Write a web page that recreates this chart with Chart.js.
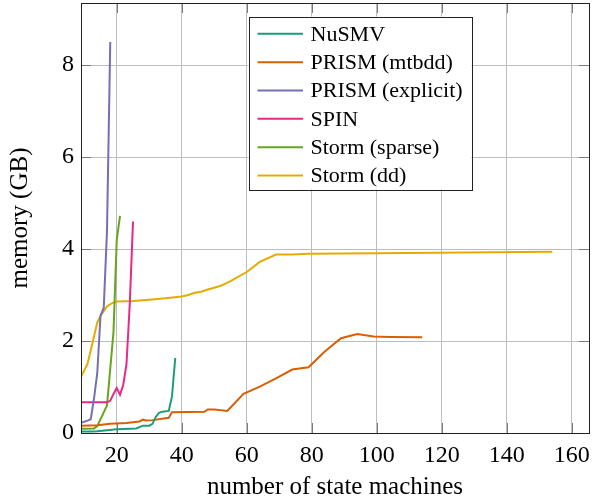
<!DOCTYPE html>
<html>
<head>
<meta charset="utf-8">
<script src="https://cdn.jsdelivr.net/npm/chart.js@4.4.1/dist/chart.umd.min.js"></script>
<style>
  html, body { margin: 0; padding: 0; background: #fff; }
  #wrap { width: 592px; height: 502px; }
</style>
</head>
<body>
<div id="wrap"><canvas id="c" width="592" height="502"></canvas></div>
<script>
// values (x = number of state machines, y = memory in GB)
const seriesNames = ['NuSMV', 'PRISM (mtbdd)', 'PRISM (explicit)', 'SPIN', 'Storm (sparse)', 'Storm (dd)'];
const seriesColors = ['#1b9e77', '#d95f02', '#7570b3', '#e7298a', '#66a61e', '#e6ab02'];

const nusmvX = [9, 12, 14, 17, 20, 26, 28, 30, 31, 32, 33, 34, 36, 37, 38];
const nusmvY = [0.03, 0.03, 0.04, 0.06, 0.08, 0.1, 0.16, 0.16, 0.2, 0.35, 0.44, 0.46, 0.48, 0.8, 1.63];

const mtbddX = [9, 14, 18, 23, 27, 28, 29, 31, 36, 37, 47, 48, 50, 54, 59, 64, 69, 74, 79, 84, 89, 94, 99, 104, 114];
const mtbddY = [0.16, 0.17, 0.2, 0.22, 0.25, 0.29, 0.27, 0.28, 0.33, 0.45, 0.46, 0.51, 0.51, 0.48, 0.85, 1.01, 1.19, 1.38, 1.43, 1.77, 2.06, 2.15, 2.1, 2.09, 2.08];

const explicitX = [9, 11, 12, 13, 14, 15, 16, 17, 18];
const explicitY = [0.22, 0.27, 0.3, 0.75, 1.3, 2.55, 2.72, 4.4, 8.5];

const spinX = [9, 17, 18, 19, 20, 21, 22, 23, 24, 25];
const spinY = [0.67, 0.67, 0.7, 0.85, 0.98, 0.83, 1.05, 1.5, 2.8, 4.6];

const sparseX = [9, 13, 14, 15, 16, 17, 18, 19, 20, 21];
const sparseY = [0.09, 0.1, 0.15, 0.3, 0.45, 0.6, 1.4, 2.2, 4.2, 4.72];

const ddX = [9, 11, 12, 13, 14, 15, 16, 17, 18, 19, 20, 25, 30, 35, 40, 42, 44, 46, 48, 50, 52, 55, 60, 64, 69, 74, 79, 100, 154];
const ddY = [1.22, 1.5, 1.8, 2.1, 2.4, 2.55, 2.65, 2.75, 2.8, 2.84, 2.86, 2.87, 2.9, 2.93, 2.97, 3.0, 3.05, 3.07, 3.12, 3.16, 3.2, 3.3, 3.5, 3.72, 3.88, 3.88, 3.9, 3.91, 3.94];

const xTicks = [20, 40, 60, 80, 100, 120, 140, 160];
const yTicks = [0, 2, 4, 6, 8];

const allX = [nusmvX, mtbddX, explicitX, spinX, sparseX, ddX];
const allY = [nusmvY, mtbddY, explicitY, spinY, sparseY, ddY];

const serif = '"Liberation Serif", "Times New Roman", serif';

const datasets = seriesNames.map((name, i) => ({
  label: name,
  data: allX[i].map((x, j) => ({ x: x, y: allY[i][j] })),
  borderColor: seriesColors[i],
  backgroundColor: seriesColors[i],
  borderWidth: 2,
  pointRadius: 0,
  tension: 0,
  fill: false
}));

// inner tick marks + frame + legend, pgfplots style
const frame = {
  id: 'frame',
  beforeDatasetsDraw(chart) {
    const ctx = chart.ctx, a = chart.chartArea;
    const xs = chart.scales.x, ys = chart.scales.y;
    ctx.save();
    ctx.strokeStyle = '#7a7a7a';
    ctx.lineWidth = 1;
    ctx.beginPath();
    xTicks.forEach(v => {
      const px = Math.round(xs.getPixelForValue(v)) + 0.5;
      ctx.moveTo(px, a.bottom); ctx.lineTo(px, a.bottom - 10);
      ctx.moveTo(px, a.top); ctx.lineTo(px, a.top + 10);
    });
    yTicks.forEach(v => {
      const py = Math.round(ys.getPixelForValue(v)) + 0.5;
      ctx.moveTo(a.left, py); ctx.lineTo(a.left + 10, py);
      ctx.moveTo(a.right, py); ctx.lineTo(a.right - 10, py);
    });
    ctx.stroke();
    ctx.restore();
  },
  afterDraw(chart) {
    const ctx = chart.ctx, a = chart.chartArea;
    ctx.save();
    ctx.strokeStyle = '#222';
    ctx.lineWidth = 1;
    ctx.strokeRect(Math.round(a.left) + 0.5, Math.round(a.top) + 0.5,
      Math.round(a.right - a.left), Math.round(a.bottom - a.top));

    // legend box
    const lx = a.left + 167.5, ly = a.top + 13.5, lw = 223, lh = 173;
    ctx.fillStyle = '#fff';
    ctx.fillRect(lx, ly, lw, lh);
    ctx.strokeRect(Math.round(lx) + 0.5, Math.round(ly) + 0.5, lw, lh);
    ctx.font = '22px ' + serif;
    ctx.textBaseline = 'middle';
    ctx.textAlign = 'left';
    chart.data.datasets.forEach((ds, i) => {
      const ry = ly + 17.3 + i * 28.35;
      ctx.strokeStyle = ds.borderColor;
      ctx.lineWidth = 2;
      ctx.beginPath();
      ctx.moveTo(lx + 9, ry); ctx.lineTo(lx + 54.5, ry);
      ctx.stroke();
      ctx.fillStyle = '#000';
      ctx.fillText(ds.label, lx + 62, ry + 1);
    });
    ctx.restore();
  }
};

new Chart(document.getElementById('c'), {
  type: 'line',
  data: { datasets: datasets },
  plugins: [frame],
  options: {
    responsive: false,
    animation: false,
    events: [],
    layout: { padding: { top: 3, right: 3, left: 0, bottom: 0 } },
    plugins: { legend: { display: false }, tooltip: { enabled: false } },
    scales: {
      x: {
        type: 'linear',
        min: 9,
        max: 165.3,
        afterBuildTicks: s => { s.ticks = xTicks.map(v => ({ value: v })); },
        afterFit: s => { s.height = 69; s.paddingLeft = 0; s.paddingRight = 0; },
        border: { display: false },
        grid: { color: '#bdbdbd', lineWidth: 1, drawTicks: false },
        ticks: { color: '#000', font: { family: serif, size: 24 }, padding: 8, maxRotation: 0 },
        title: { display: true, text: 'number of state machines', color: '#000',
                 font: { family: serif, size: 25 }, padding: { top: 0, bottom: 0 } }
      },
      y: {
        type: 'linear',
        min: 0,
        max: 9.35,
        afterBuildTicks: s => { s.ticks = yTicks.map(v => ({ value: v })); },
        afterFit: s => { s.width = 81; s.paddingTop = 0; s.paddingBottom = 0; },
        border: { display: false },
        grid: { color: '#bdbdbd', lineWidth: 1, drawTicks: false },
        ticks: { color: '#000', font: { family: serif, size: 24 }, padding: 7 },
        title: { display: true, text: 'memory (GB)', color: '#000',
                 font: { family: serif, size: 25 }, padding: { top: 5, bottom: 0 } }
      }
    }
  }
});
</script>
</body>
</html>
